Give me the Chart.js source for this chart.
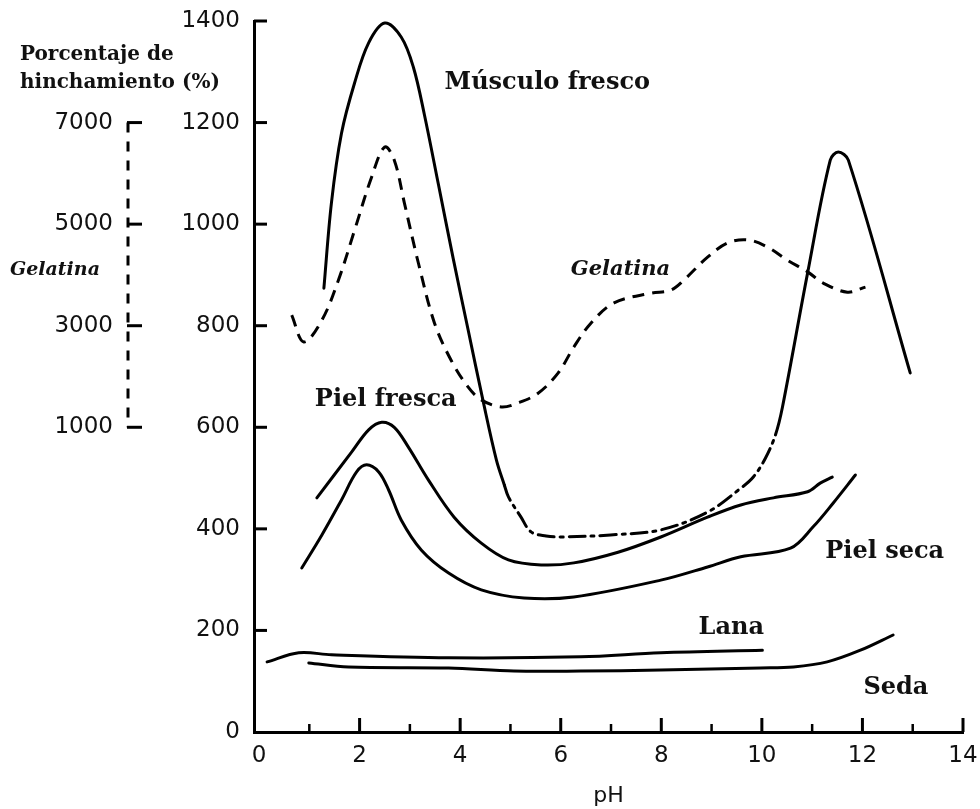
<!DOCTYPE html>
<html>
<head>
<meta charset="utf-8">
<script src="https://cdn.jsdelivr.net/npm/chart.js@4.4.1/dist/chart.umd.min.js"></script>
<style>
  html, body { margin: 0; padding: 0; background: #fff; }
  #wrap { width: 980px; height: 809px; }
</style>
</head>
<body>
<div id="wrap"><canvas id="grafico"></canvas></div>
<script>
// valores (pH, % de hinchamiento)
const musculoPH  = [1.29, 1.44, 1.64, 1.90, 2.18, 2.50, 2.83, 3.07, 3.29, 3.57, 3.86, 4.16, 4.46, 4.72, 4.88, 4.96, 5.21, 5.41, 5.71, 6.00, 6.99, 7.99, 8.92, 9.58, 9.83, 10.07, 10.27, 10.41, 10.91, 11.36, 11.52, 11.72, 12.95];
const musculoVal = [874, 1042, 1179, 1278, 1357, 1396, 1368, 1309, 1215, 1077, 933, 791, 650, 536, 486, 463, 423, 394, 386, 384, 388, 398, 433, 480, 502, 539, 585, 640, 904, 1126, 1142, 1126, 707];
const musculoTramoDesde = 4.88;   // tramo en raya-punto
const musculoTramoHasta = 10.27;

const gelatinaPH  = [0.65, 0.89, 1.25, 1.58, 1.90, 2.24, 2.50, 2.69, 2.89, 3.17, 3.49, 3.82, 4.16, 4.42, 4.82, 5.15, 5.55, 5.95, 6.26, 6.60, 7.06, 7.79, 8.19, 8.45, 8.92, 9.32, 9.72, 10.11, 10.51, 10.91, 11.22, 11.70, 12.06];
const gelatinaVal = [821, 768, 811, 890, 988, 1093, 1152, 1126, 1042, 923, 805, 732, 679, 654, 640, 648, 667, 707, 758, 805, 845, 864, 870, 890, 935, 963, 969, 955, 929, 906, 884, 866, 876];

const pielFrescaPH  = [1.15, 1.84, 2.18, 2.44, 2.69, 2.97, 3.37, 3.88, 4.42, 4.96, 5.61, 6.26, 7.14, 7.99, 8.92, 9.58, 10.23, 10.91, 11.16, 11.40];
const pielFrescaVal = [461, 551, 595, 610, 600, 561, 496, 423, 372, 339, 329, 333, 354, 384, 423, 447, 461, 473, 490, 502];

const pielSecaPH  = [0.85, 1.25, 1.64, 1.94, 2.14, 2.38, 2.58, 2.83, 3.23, 3.77, 4.42, 5.27, 6.26, 7.99, 8.92, 9.58, 10.57, 11.02, 11.42, 11.86];
const pielSecaVal = [323, 388, 457, 512, 526, 512, 476, 417, 358, 313, 280, 264, 266, 299, 325, 345, 362, 404, 451, 506];

const lanaPH  = [0.16, 0.79, 1.44, 3.77, 6.40, 7.99, 10.01];
const lanaVal = [138, 156, 152, 146, 148, 156, 161];

const sedaPH  = [0.99, 1.78, 3.77, 5.07, 6.40, 7.99, 9.97, 10.63, 11.30, 11.96, 12.61];
const sedaVal = [136, 128, 126, 120, 120, 122, 126, 128, 138, 161, 191];

const ticksPH       = [0, 2, 4, 6, 8, 10, 12, 14];
const ticksMenores  = [1, 3, 5, 7, 9, 11, 13];
const ticksHinch    = [0, 200, 400, 600, 800, 1000, 1200, 1400];
const ticksGelatina = [1000, 3000, 5000, 7000];

function puntos(xs, ys) {
    return xs.map((x, i) => ({ x: x, y: ys[i] }));
}

const fuenteNum = { family: "'DejaVu Sans', sans-serif", size: 23 };

function serieBase(label, xs, ys) {
    return {
        label: label,
        data: puntos(xs, ys),
        borderColor: "#000",
        borderWidth: 3,
        pointRadius: 0,
        tension: 0.35,
        borderCapStyle: "round",
        borderJoinStyle: "round",
        fill: false
    };
}

const serieMusculo = serieBase("Músculo fresco", musculoPH, musculoVal);
serieMusculo.segment = {
    borderDash: ctx => (ctx.p0.parsed.x >= musculoTramoDesde && ctx.p1.parsed.x <= musculoTramoHasta) ? [16, 6, 3, 6] : undefined
};
const serieGelatina = serieBase("Gelatina", gelatinaPH, gelatinaVal);
serieGelatina.borderDash = [12, 8];
serieGelatina.borderCapStyle = "butt";

// textos y marcas interiores
const rotulos = {
    id: "rotulos",
    afterDatasetsDraw(chart) {
        const { ctx, chartArea } = chart;
        const x = chart.scales.x, y = chart.scales.y, yg = chart.scales.yg;
        ctx.save();
        ctx.strokeStyle = "#000";
        ctx.lineWidth = 3;
        ctx.lineCap = "butt";
        // marcas hacia dentro en el eje y
        ticksHinch.forEach(v => {
            if (v === 0) return;
            const py = y.getPixelForValue(v);
            ctx.beginPath();
            ctx.moveTo(chartArea.left, py);
            ctx.lineTo(chartArea.left + 13, py);
            ctx.stroke();
        });
        // marcas en el eje x
        ticksPH.forEach(v => {
            if (v === 0) return;
            const px = x.getPixelForValue(v);
            ctx.beginPath();
            ctx.moveTo(px, chartArea.bottom);
            ctx.lineTo(px, chartArea.bottom - 14);
            ctx.stroke();
        });
        ctx.lineWidth = 2.5;
        ticksMenores.forEach(v => {
            const px = x.getPixelForValue(v);
            ctx.beginPath();
            ctx.moveTo(px, chartArea.bottom);
            ctx.lineTo(px, chartArea.bottom - 8);
            ctx.stroke();
        });
        // eje secundario de la gelatina (discontinuo)
        const gx = yg.right - 7;
        ctx.lineWidth = 3;
        ctx.setLineDash([10, 9]);
        ctx.beginPath();
        ctx.moveTo(gx, yg.getPixelForValue(7000));
        ctx.lineTo(gx, yg.getPixelForValue(1000));
        ctx.stroke();
        ctx.setLineDash([]);
        ticksGelatina.forEach(v => {
            const py = yg.getPixelForValue(v);
            ctx.beginPath();
            ctx.moveTo(gx - 1, py);
            ctx.lineTo(gx + 14, py);
            ctx.stroke();
        });

        // rotulos de las curvas
        ctx.fillStyle = "#111";
        ctx.textBaseline = "middle";
        ctx.textAlign = "left";
        const negrita = "bold 24px 'DejaVu Serif', serif";
        const cursiva = "italic bold 21px 'DejaVu Serif', serif";
        const escribir = (t, vx, vy, f) => {
            ctx.font = f;
            ctx.fillText(t, x.getPixelForValue(vx), y.getPixelForValue(vy));
        };
        escribir("Músculo fresco", 3.69, 1278, negrita);
        escribir("Piel fresca", 1.11, 654, negrita);
        escribir("Piel seca", 11.26, 354, negrita);
        escribir("Lana", 8.74, 205, negrita);
        escribir("Seda", 12.02, 87, negrita);
        escribir("Gelatina", 6.2, 910, cursiva);

        // titulo del eje vertical y rotulo de la gelatina a la izquierda
        ctx.font = "bold 20px 'DejaVu Serif', serif";
        ctx.fillText("Porcentaje de", 20, 55);
        ctx.fillText("hinchamiento (%)", 20, 83);
        ctx.font = "italic bold 19px 'DejaVu Serif', serif";
        ctx.fillText("Gelatina", 10, y.getPixelForValue(910));
        ctx.restore();
    }
};

const sinMiles = v => String(v);

const ctx = document.getElementById("grafico").getContext("2d");
new Chart(ctx, {
    type: "line",
    data: {
        datasets: [
            serieMusculo,
            serieGelatina,
            serieBase("Piel fresca", pielFrescaPH, pielFrescaVal),
            serieBase("Piel seca", pielSecaPH, pielSecaVal),
            serieBase("Lana", lanaPH, lanaVal),
            serieBase("Seda", sedaPH, sedaVal)
        ]
    },
    options: {
        responsive: true,
        maintainAspectRatio: false,
        animation: false,
        layout: { padding: { top: 21, right: 17, bottom: 0, left: 0 } },
        plugins: {
            legend: { display: false },
            tooltip: { enabled: false }
        },
        scales: {
            x: {
                type: "linear",
                min: -0.1,
                max: 14,
                afterBuildTicks: s => { s.ticks = ticksPH.map(v => ({ value: v })); },
                afterFit: s => { s.height = 77; s.paddingLeft = 0; s.paddingRight = 0; },
                grid: { drawOnChartArea: false, drawTicks: false },
                border: { color: "#000", width: 3 },
                ticks: { color: "#111", font: fuenteNum, padding: 10, maxRotation: 0, autoSkip: false, callback: sinMiles },
                title: { display: true, text: "pH", color: "#111", font: { family: "'DejaVu Sans', sans-serif", size: 22 }, padding: { top: 0, bottom: 0 } }
            },
            y: {
                position: "left",
                weight: 0,
                min: 0,
                max: 1400,
                afterBuildTicks: s => { s.ticks = ticksHinch.map(v => ({ value: v })); },
                afterFit: s => { s.width = 119; s.paddingTop = 0; s.paddingBottom = 0; },
                grid: { drawOnChartArea: false, drawTicks: false },
                border: { color: "#000", width: 3 },
                ticks: { color: "#111", font: fuenteNum, padding: 14, callback: sinMiles }
            },
            yg: {
                position: "left",
                weight: 1,
                min: -5000,
                max: 9000,
                afterBuildTicks: s => { s.ticks = ticksGelatina.map(v => ({ value: v })); },
                afterFit: s => { s.width = 135; s.paddingTop = 0; s.paddingBottom = 0; },
                grid: { display: false, drawTicks: false },
                border: { display: false },
                ticks: { color: "#111", font: fuenteNum, padding: 22, callback: sinMiles }
            }
        }
    },
    plugins: [rotulos]
});
</script>
</body>
</html>
